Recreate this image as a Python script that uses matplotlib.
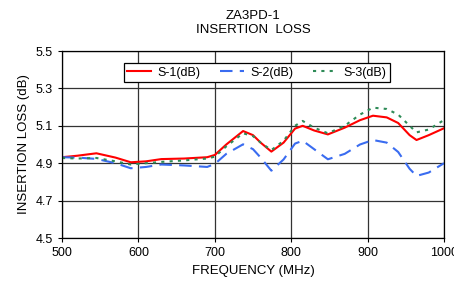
import matplotlib
matplotlib.use("Agg")
import matplotlib.pyplot as plt

plt.rcParams["font.family"] = ["Liberation Sans", "DejaVu Sans"]

# Frequency points (MHz) and insertion loss (dB)
freq = [500, 520, 545, 570, 590, 610, 630, 660, 690, 700, 715, 737, 750, 760,
        774, 790, 805, 815, 830, 848, 870, 890, 907, 925, 940, 955, 964, 980, 1000]
s1 = [4.932, 4.940, 4.953, 4.930, 4.905, 4.910, 4.922, 4.925, 4.932, 4.944, 5.000,
      5.072, 5.050, 5.010, 4.962, 5.010, 5.085, 5.100, 5.075, 5.054, 5.090, 5.130,
      5.154, 5.145, 5.115, 5.050, 5.024, 5.050, 5.087]
s2 = [4.932, 4.930, 4.923, 4.900, 4.873, 4.880, 4.893, 4.888, 4.880, 4.896, 4.950,
      5.001, 4.975, 4.930, 4.860, 4.920, 5.005, 5.020, 4.975, 4.921, 4.950, 5.000,
      5.024, 5.010, 4.960, 4.870, 4.832, 4.850, 4.900]
s3 = [4.928, 4.925, 4.928, 4.910, 4.893, 4.900, 4.907, 4.915, 4.925, 4.935, 4.990,
      5.060, 5.045, 5.010, 4.970, 5.020, 5.100, 5.126, 5.090, 5.060, 5.100, 5.160,
      5.197, 5.190, 5.160, 5.100, 5.065, 5.080, 5.131]

xticks = [500, 600, 700, 800, 900, 1000]
yticks = [4.5, 4.7, 4.9, 5.1, 5.3, 5.5]

fig = plt.figure(figsize=(4.54, 2.88), dpi=100)
ax = fig.add_axes([0.1366, 0.1736, 0.8414, 0.6493])

ax.plot(freq, s1, color="#ff0000", lw=1.5, label="S-1(dB)")
ax.plot(freq, s2, color="#3a6cf0", lw=1.5, dashes=(6, 3.5), label="S-2(dB)")
ax.plot(freq, s3, color="#2e8b57", lw=1.5, dashes=(1.5, 2.5), label="S-3(dB)")

ax.set_xlim(500, 1000)
ax.set_ylim(4.5, 5.5)
ax.set_xticks(xticks)
ax.set_yticks(yticks)
ax.set_yticklabels([f"{v:.1f}" for v in yticks])
ax.grid(True, color="#333333", lw=0.9)
ax.tick_params(labelsize=9, length=3, width=0.8, direction="out")
for sp in ax.spines.values():
    sp.set_color("black")
    sp.set_linewidth(0.9)

ax.set_xlabel("FREQUENCY (MHz)", fontsize=9.5, labelpad=4)
ax.set_ylabel("INSERTION LOSS (dB)", fontsize=9.5, labelpad=4)
ax.set_title("ZA3PD-1\nINSERTION  LOSS", fontsize=9.5, linespacing=1.2, pad=13)

leg = ax.legend(loc="upper center", ncol=3, fontsize=9, frameon=True, fancybox=False,
                edgecolor="black", framealpha=1, handlelength=1.9, handletextpad=0.5,
                columnspacing=1.6, bbox_to_anchor=(0.51, 0.97), borderpad=0.3)
leg.get_frame().set_linewidth(0.9)

fig.savefig("out.png", dpi=100)
